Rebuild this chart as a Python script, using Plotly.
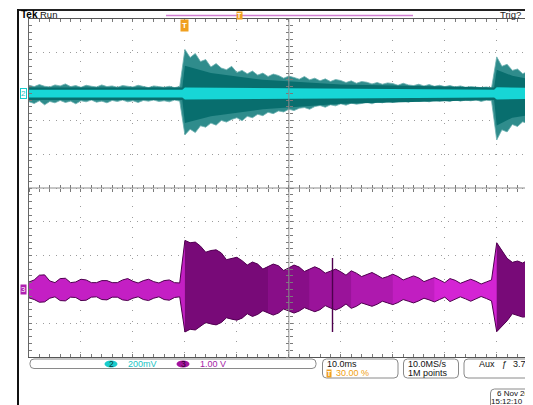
import plotly.graph_objects as go

t_ms = list(range(-30, 68))          # 1 ms sampling, trigger at t = 0

cyan_hi = [3.04, 3.00, 3.06, 3.01, 2.99, 3.05, 3.02, 3.08, 3.00, 3.03, 2.98, 3.04, 3.01, 2.99, 3.05,
           3.00, 3.02, 2.98, 3.03, 3.00, 2.99, 3.04, 3.00, 2.97, 3.02, 2.99, 2.98, 3.01, 2.97, 3.00,
           4.10, 3.86, 3.98, 3.74, 3.80, 3.58, 3.68, 3.55, 3.50, 3.60, 3.42, 3.48, 3.38, 3.46, 3.34,
           3.40, 3.30, 3.37, 3.33, 3.25, 3.31, 3.27, 3.22, 3.30, 3.20, 3.25, 3.17, 3.23, 3.15, 3.21,
           3.18, 3.12, 3.17, 3.10, 3.15, 3.13, 3.08, 3.12, 3.07, 3.11, 3.09, 3.04, 3.10, 3.05, 3.03,
           3.07, 3.02, 3.06, 3.01, 3.04, 3.00, 3.03, 2.99, 3.02, 2.98, 3.00, 2.99, 2.97, 2.99, 2.96,
           3.88, 3.60, 3.66, 3.48, 3.52, 3.38, 3.45, 3.32]
cyan_lo = [2.55, 2.50, 2.58, 2.46, 2.56, 2.52, 2.59, 2.53, 2.57, 2.49, 2.58, 2.55, 2.60, 2.54, 2.57,
           2.52, 2.59, 2.56, 2.60, 2.55, 2.58, 2.53, 2.59, 2.57, 2.60, 2.56, 2.58, 2.55, 2.60, 2.57,
           1.57, 1.74, 1.64, 1.84, 1.80, 1.92, 1.86, 2.00, 1.95, 2.03, 2.08, 1.99, 2.12, 2.08, 2.18,
           2.14, 2.24, 2.20, 2.28, 2.25, 2.33, 2.29, 2.36, 2.38, 2.33, 2.41, 2.44, 2.39, 2.46, 2.43,
           2.49, 2.45, 2.51, 2.48, 2.50, 2.54, 2.49, 2.55, 2.52, 2.57, 2.53, 2.56, 2.58, 2.54, 2.59,
           2.56, 2.58, 2.55, 2.60, 2.57, 2.59, 2.56, 2.61, 2.57, 2.60, 2.58, 2.61, 2.56, 2.60, 2.58,
           1.42, 1.72, 1.66, 1.88, 1.82, 1.96, 1.90, 1.94]

# dense (dark) part of the cyan trace, key points
dense_t = [-30, -0.5, 0, 5, 15, 30, 59.5, 60, 63, 67]
dense_hi = [2.97, 2.97, 3.62, 3.40, 3.20, 3.06, 2.97, 3.50, 3.32, 3.20]
dense_lo = [2.60, 2.60, 1.92, 2.12, 2.33, 2.49, 2.60, 1.85, 2.08, 2.18]

# bright core of the cyan trace, key points
core_t = [-30, -0.5, 0, 30, 59.5, 60, 67]
core_hi = [2.91, 2.91, 2.97, 2.94, 2.91, 2.98, 2.96]
core_lo = [2.68, 2.68, 2.62, 2.65, 2.68, 2.62, 2.64]

mag_hi = [-2.78, -2.72, -2.58, -2.57, -2.75, -2.80, -2.68, -2.67, -2.80, -2.78, -2.70, -2.72, -2.80, -2.80, -2.74,
          -2.74, -2.80, -2.80, -2.72, -2.68, -2.76, -2.81, -2.74, -2.70, -2.77, -2.81, -2.74, -2.72, -2.80, -2.81,
          -1.55, -1.62, -1.60, -1.72, -1.90, -1.85, -1.83, -1.92, -2.12, -2.08, -2.05, -2.15, -2.28, -2.19, -2.25,
          -2.40, -2.32, -2.25, -2.30, -2.44, -2.36, -2.28, -2.34, -2.47, -2.40, -2.33, -2.40, -2.52, -2.46, -2.40,
          -2.48, -2.58, -2.45, -2.52, -2.62, -2.56, -2.50, -2.58, -2.67, -2.62, -2.55, -2.62, -2.72, -2.66, -2.60,
          -2.66, -2.77, -2.71, -2.65, -2.72, -2.80, -2.68, -2.73, -2.82, -2.76, -2.70, -2.76, -2.84, -2.78, -2.72,
          -1.62, -1.85, -2.08, -2.20, -2.16, -2.22, -2.13, -2.15]
mag_lo = [-3.25, -3.30, -3.38, -3.37, -3.26, -3.22, -3.33, -3.34, -3.23, -3.24, -3.33, -3.32, -3.23, -3.22, -3.30,
          -3.31, -3.23, -3.23, -3.31, -3.33, -3.26, -3.22, -3.30, -3.33, -3.26, -3.22, -3.30, -3.32, -3.24, -3.22,
          -4.26, -4.18, -4.20, -4.10, -3.98, -4.02, -4.05, -3.98, -3.84, -3.88, -3.91, -3.85, -3.72, -3.80, -3.74,
          -3.63, -3.70, -3.76, -3.70, -3.58, -3.64, -3.70, -3.64, -3.54, -3.60, -3.66, -3.60, -3.48, -3.55, -3.61,
          -3.54, -3.43, -3.56, -3.50, -3.40, -3.46, -3.50, -3.44, -3.35, -3.40, -3.45, -3.39, -3.30, -3.35, -3.40,
          -3.34, -3.26, -3.31, -3.37, -3.30, -3.23, -3.36, -3.30, -3.22, -3.28, -3.35, -3.28, -3.21, -3.27, -3.34,
          -4.25, -4.10, -3.93, -3.72, -3.78, -3.82, -3.80, -3.80]

spike_t = [28.4]
spike_hi = [-2.07]
spike_lo = [-4.26]

ch_offsets = {"2": 2.8, "3": -3.0}

for arr in (cyan_hi, cyan_lo, mag_hi, mag_lo):
    assert len(arr) == len(t_ms), len(arr)

# ---------------- geometry -------------------------------------------------------------------
# the page body adds an 8 px margin, so the figure is drawn 8 px smaller and all chrome
# positions below are given in window pixels
OFF = 8
W, H = 533 - OFF, 405 - OFF
ML, MR, MT, MB = 29 - OFF, 0, 19 - OFF, 405 - 357
X0, X1 = -30.0, 66.98
Y0, Y1 = -5.0, 5.0
PW, PH = W - ML - MR, H - MT - MB

def fx(p):
    return (p - 29) / PW

def fy(p):
    return (357 - p) / PH

FONT = "Liberation Sans, Arial, sans-serif"
fig = go.Figure()

def band(x, lo, hi, fill, line_color=None, line_w=0.0):
    lc = line_color if line_color else fill
    fig.add_trace(go.Scatter(x=x, y=lo, mode="lines", line=dict(color=lc, width=line_w),
                             hoverinfo="skip", showlegend=False))
    fig.add_trace(go.Scatter(x=x, y=hi, mode="lines", fill="tonexty", fillcolor=fill,
                             line=dict(color=lc, width=line_w), hoverinfo="skip", showlegend=False))

def sel(a, b):
    return [i for i, tt in enumerate(t_ms) if a <= tt <= b]

# channel 2 (cyan)
band(t_ms, cyan_lo, cyan_hi, "#2f8c8c", "#6cb0b0", 0.8)
band(dense_t, dense_lo, dense_hi, "#086e6e")
band(core_t, core_lo, core_hi, "#17d6d6")

# channel 3 (magenta)
band(t_ms, mag_lo, mag_hi, "#d424d4", "#4e004e", 1.0)
for (a, b, alpha) in [(-30, 0, 0.12), (0, 16, 0.72), (16, 24, 0.6), (24, 32, 0.45), (32, 40, 0.3),
                      (40, 48, 0.15), (60, 67, 0.72)]:
    idx = sel(a, b)
    band([t_ms[i] for i in idx], [mag_lo[i] for i in idx], [mag_hi[i] for i in idx],
         f"rgba(85,0,85,{alpha})")
for st, sh, sl in zip(spike_t, spike_hi, spike_lo):
    fig.add_trace(go.Scatter(x=[st, st], y=[sh, sl], mode="lines", line=dict(color="#4e004e", width=1.4),
                             hoverinfo="skip", showlegend=False))

# dummy traces for centre-line tick axes
for xa, ya in [("x2", "y"), ("x3", "y"), ("x", "y2"), ("x", "y3")]:
    fig.add_trace(go.Scatter(x=[None], y=[None], xaxis=xa, yaxis=ya, mode="markers",
                             hoverinfo="skip", showlegend=False))

TC = "#7a7a7a"
GRID = "#9c9c9c"
common = dict(showticklabels=False, zeroline=False, tickcolor=TC, tickwidth=1)
cpos = (20 - X0) / (X1 - X0)
fig.update_layout(
    width=W, height=H, autosize=False,
    margin=dict(l=ML, r=MR, t=MT, b=MB, pad=0),
    paper_bgcolor="white", plot_bgcolor="white",
    showlegend=False, hovermode=False,
    xaxis=dict(range=[X0, X1], showgrid=True, gridcolor=GRID, griddash="1px,9.4px", gridwidth=1,
               tick0=0, dtick=10, ticks="inside", ticklen=3, showline=True, linecolor="#555",
               linewidth=1, mirror="allticks",
               minor=dict(tick0=0, dtick=2, ticks="inside", ticklen=3, tickcolor=TC, showgrid=False),
               **common),
    yaxis=dict(range=[Y0, Y1], showgrid=True, gridcolor=GRID, griddash="1px,5.76px", gridwidth=1,
               tick0=0, dtick=1, ticks="inside", ticklen=3, showline=True, linecolor="#666",
               linewidth=1, mirror=False,
               minor=dict(tick0=0, dtick=0.2, ticks="inside", ticklen=3, tickcolor=TC, showgrid=False),
               **common),
    xaxis2=dict(overlaying="x", anchor="free", position=0.5, range=[X0, X1], showgrid=False,
                showline=False, tick0=0, dtick=10, ticks="inside", ticklen=3,
                minor=dict(tick0=0, dtick=2, ticks="inside", ticklen=3, tickcolor=TC), **common),
    xaxis3=dict(overlaying="x", anchor="free", position=0.5, range=[X0, X1], showgrid=False,
                showline=False, tick0=0, dtick=10, ticks="outside", ticklen=3,
                minor=dict(tick0=0, dtick=2, ticks="outside", ticklen=3, tickcolor=TC), **common),
    yaxis2=dict(overlaying="y", anchor="free", position=cpos, range=[Y0, Y1],
                showgrid=False, showline=False, tick0=0, dtick=1, ticks="inside", ticklen=3,
                minor=dict(tick0=0, dtick=0.2, ticks="inside", ticklen=3, tickcolor=TC), **common),
    yaxis3=dict(overlaying="y", anchor="free", position=cpos, range=[Y0, Y1],
                showgrid=False, showline=False, tick0=0, dtick=1, ticks="outside", ticklen=3,
                minor=dict(tick0=0, dtick=0.2, ticks="outside", ticklen=3, tickcolor=TC), **common),
)

# centre cross lines
fig.add_shape(type="line", xref="x", yref="y", x0=20, x1=20, y0=Y0, y1=Y1, line=dict(color="#8c8c8c", width=1))
fig.add_shape(type="line", xref="x", yref="y", x0=X0, x1=X1, y0=0, y1=0, line=dict(color="#8c8c8c", width=1))

# ---------------- screen chrome (window pixel positions) --------------------------------------
def pline(x0, y0, x1, y1, color, w):
    fig.add_shape(type="line", xref="paper", yref="paper", x0=fx(x0), x1=fx(x1), y0=fy(y0), y1=fy(y1),
                  line=dict(color=color, width=w))

pline(17, 10, 540, 10, "#222", 2)
pline(18, 9, 18, 410, "#111", 2)
pline(166, 15.5, 413, 15.5, "#d17fd1", 1.5)

def rrect(x0, y0, x1, y1, r=4, color="#8a8a8a"):
    rx, ry = r / PW, r / PH
    a, b, c, d = fx(x0), fx(x1), fy(y0), fy(y1)
    path = (f"M{a+rx},{c} L{b-rx},{c} Q{b},{c} {b},{c-ry} L{b},{d+ry} Q{b},{d} {b-rx},{d} "
            f"L{a+rx},{d} Q{a},{d} {a},{d+ry} L{a},{c-ry} Q{a},{c} {a+rx},{c} Z")
    fig.add_shape(type="path", path=path, xref="paper", yref="paper", line=dict(color=color, width=1))

rrect(30, 359, 316, 368.5)
rrect(322.5, 359, 398, 378)
rrect(403.5, 359, 458.5, 378)
rrect(464, 359, 560, 378)
rrect(490.5, 389, 560, 420)

def pill(x0, x1, y0, y1, color):
    fig.add_shape(type="circle", xref="paper", yref="paper", x0=fx(x0), x1=fx(x1), y0=fy(y0), y1=fy(y1),
                  fillcolor=color, line=dict(width=0))

pill(104.5, 117.5, 360.5, 367.5, "#19cccc")
pill(176.5, 189.5, 360.5, 367.5, "#a3139d")

def txt(x, y, s, color="#111", size=9, anchor="left", **kw):
    fig.add_annotation(x=fx(x), y=fy(y), xref="paper", yref="paper", text=s, showarrow=False,
                       xanchor=anchor, yanchor="middle",
                       font=dict(family=FONT, size=size, color=color), **kw)

txt(19, 15, "<b>Tek</b>", "#000", 10)
txt(38, 15, "Run", "#111", 9.5)
txt(498, 15, "Trig?", "#222", 9.5)
txt(239, 15.5, "<b>T</b>", "white", 7, anchor="center", bgcolor="#f0a020", borderpad=0)
fig.add_annotation(x=0, y=fy(25.5), xref="x", yref="paper", text="<b>T</b>", showarrow=False,
                   xanchor="center", yanchor="middle", bgcolor="#f0a020", borderpad=1,
                   font=dict(family=FONT, size=8, color="white"))

# channel ground markers
fig.add_annotation(x=fx(23.5), y=ch_offsets["2"], xref="paper", yref="y", text="2", showarrow=False,
                   xanchor="center", yanchor="middle", bgcolor="white", bordercolor="#19cccc",
                   borderwidth=1, borderpad=0, font=dict(family=FONT, size=8, color="#19c4c4"))
fig.add_annotation(x=fx(23.5), y=ch_offsets["3"], xref="paper", yref="y", text="3", showarrow=False,
                   xanchor="center", yanchor="middle", bgcolor="#b020b0", borderpad=0,
                   font=dict(family=FONT, size=8, color="white"))

# bottom readouts
txt(111, 364, "2", "#0b3838", 8.5, anchor="center")
txt(126, 364, "200mV", "#19c4c4", 9)
txt(183, 364, "3", "#2a002a", 8.5, anchor="center")
txt(198, 364, "1.00 V", "#a51ea5", 9)
txt(325, 364, "10.0ms", "#111", 9)
txt(328.5, 373, "<b>T</b>", "white", 6.5, anchor="center", bgcolor="#f0a020", borderpad=0)
txt(334, 373, "30.00 %", "#f0a010", 9)
txt(406, 364, "10.0MS/s", "#111", 9)
txt(406, 373, "1M points", "#111", 9)
txt(477, 364, "Aux", "#111", 9)
txt(500, 364, "ƒ", "#111", 9)
txt(511, 364, "3.70", "#111", 9)
txt(496, 393, "6 Nov 20", "#111", 8, borderpad=0)
txt(490, 402, "15:12:10", "#111", 8, borderpad=0)

fig.write_html("out.html", config={"displayModeBar": False})
